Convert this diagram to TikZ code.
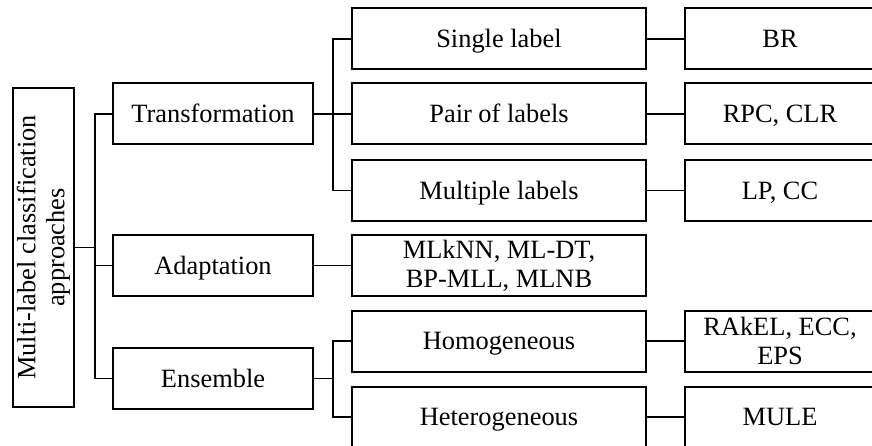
\documentclass[tikz,border=0pt]{standalone}
\usepackage{fontspec}
\setmainfont{Liberation Serif}
\usepackage{tikz}

\begin{document}
\begin{tikzpicture}[x=1pt,y=-1pt,
    box/.style={draw, line width=2pt, rectangle, inner sep=0pt, align=center,
      text height=17.5pt, text depth=0pt, font=\fontsize{26.4}{29}\selectfont},
    twoline/.style={text height={}, text depth={}},
    catbox/.style={box, minimum width=200, minimum height=61},
    subbox/.style={box, minimum width=294, minimum height=61},
    algbox/.style={box, minimum width=190, minimum height=61},
    link/.style={line width=1.5pt}]
      \useasboundingbox (0,0) rectangle (872,446);
      % root
      \node[box, twoline, rotate=90, minimum width=319, minimum height=61] (root) at (43.5,247.5)
        {Multi-label classification\\approaches};
      % categories
      \node[catbox] (trans) at (213,114) {Transformation};
      \node[catbox] (adapt) at (213,265.5) {Adaptation};
      \node[catbox] (ens) at (213,378.5) {Ensemble};
      % sub-types
      \node[subbox] (single) at (499,39) {Single label};
      \node[subbox] (pair) at (499,114) {Pair of labels};
      \node[subbox] (multi) at (499,190.5) {Multiple labels};
      \node[subbox, twoline] (adaalg) at (499,265.5) {MLkNN, ML-DT,\\BP-MLL, MLNB};
      \node[subbox] (homo) at (499,341) {Homogeneous};
      \node[subbox] (hetero) at (499,417) {Heterogeneous};
      % algorithms
      \node[algbox] (br) at (780,39) {BR};
      \node[algbox] (rpc) at (780,114) {RPC, CLR};
      \node[algbox] (lp) at (780,190.5) {LP, CC};
      \node[algbox, twoline] (rakel) at (780,341) {RAkEL, ECC,\\EPS};
      \node[algbox] (mule) at (780,417) {MULE};
      % connectors
      \draw[link] (root.south) -- ++(20,0) coordinate (jroot);
      \draw[link] (jroot) |- (trans.west);
      \draw[link] (jroot) |- (adapt.west);
      \draw[link] (jroot) |- (ens.west);
      \draw[link] (trans.east) -- ++(19,0) coordinate (jtrans);
      \draw[link] (jtrans) |- (single.west);
      \draw[link] (jtrans) |- (pair.west);
      \draw[link] (jtrans) |- (multi.west);
      \draw[link] (adapt.east) -- (adaalg.west);
      \draw[link] (ens.east) -- ++(19,0) coordinate (jens);
      \draw[link] (jens) |- (homo.west);
      \draw[link] (jens) |- (hetero.west);
      \draw[link] (single.east) -- (br.west);
      \draw[link] (pair.east) -- (rpc.west);
      \draw[link] (multi.east) -- (lp.west);
      \draw[link] (homo.east) -- (rakel.west);
      \draw[link] (hetero.east) -- (mule.west);
    \end{tikzpicture}
\end{document}
